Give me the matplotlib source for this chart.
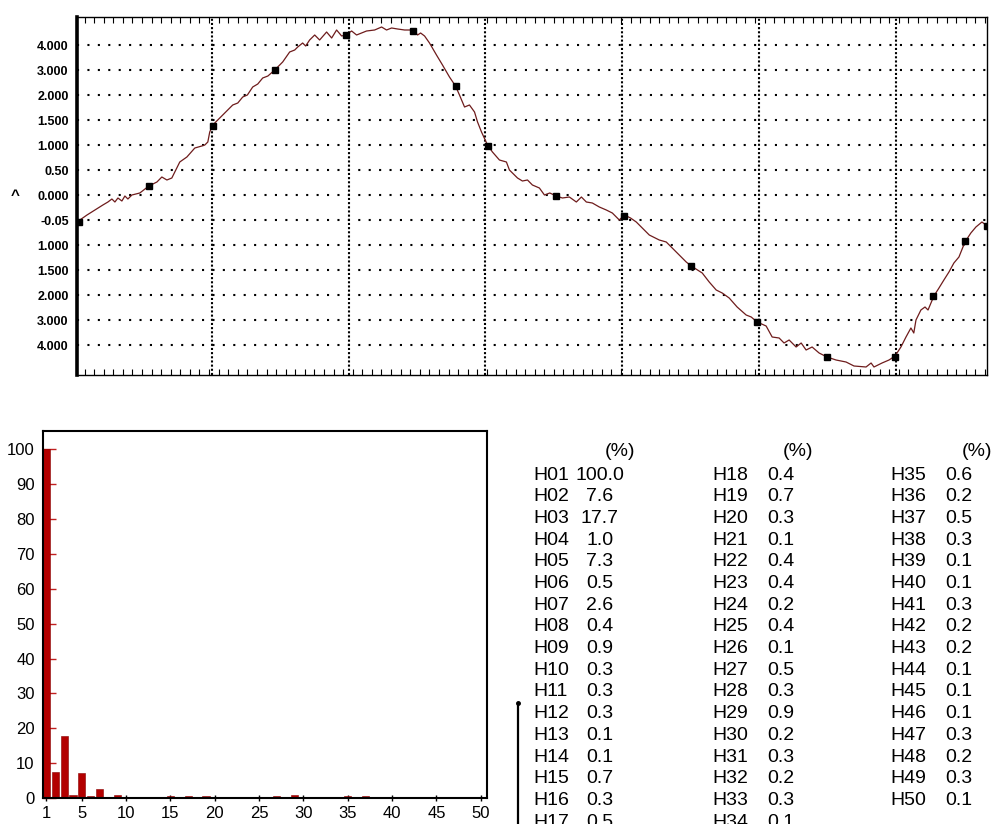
import matplotlib
matplotlib.use("Agg")
import matplotlib.pyplot as plt
from matplotlib.lines import Line2D
from matplotlib.ticker import MultipleLocator

# --- waveform (x in grid divisions, y in grid rows) ---
wave_x = [0.015, 0.088, 0.146, 0.204, 0.241, 0.27, 0.292, 0.314, 0.343, 0.365, 0.387, 0.416,
          0.474, 0.540, 0.599, 0.635, 0.672, 0.708, 0.766, 0.818, 0.876, 0.927, 0.949, 0.971,
          0.985, 1.007, 1.080, 1.153, 1.19, 1.226, 1.26, 1.299, 1.336, 1.372, 1.41, 1.460,
          1.518, 1.569, 1.606, 1.628, 1.664, 1.686, 1.715, 1.752, 1.788, 1.839, 1.876, 1.912,
          1.949, 1.978, 2.022, 2.058, 2.131, 2.190, 2.241, 2.277, 2.314, 2.358, 2.409, 2.474,
          2.504, 2.526, 2.555, 2.591, 2.642, 2.686, 2.737, 2.781, 2.810, 2.847, 2.883, 2.920,
          2.942, 2.971, 3.015, 3.051, 3.102, 3.153, 3.175, 3.234, 3.27, 3.307, 3.343, 3.394,
          3.431, 3.47, 3.518, 3.562, 3.613, 3.664, 3.701, 3.737, 3.781, 3.832, 3.883, 3.927,
          3.978, 4.015, 4.06, 4.102, 4.146, 4.197, 4.270, 4.321, 4.365, 4.431, 4.467, 4.504,
          4.584, 4.635, 4.686, 4.730, 4.781, 4.839, 4.905, 4.942, 4.985, 5.051, 5.095, 5.146,
          5.182, 5.219, 5.270, 5.307, 5.343, 5.387, 5.438, 5.496, 5.562, 5.635, 5.693, 5.781,
          5.818, 5.839, 5.898, 5.949, 5.993, 6.036, 6.073, 6.109, 6.13, 6.146, 6.182, 6.212,
          6.234, 6.277, 6.314, 6.350, 6.387, 6.423, 6.460, 6.504, 6.547, 6.584, 6.628, 6.657]
wave_y = [-1.08, -0.80, -0.60, -0.40, -0.28, -0.16, -0.28, -0.12, -0.24, -0.04, -0.16, 0.0,
          0.08, 0.36, 0.52, 0.72, 0.60, 0.68, 1.32, 1.52, 1.88, 1.96, 2.0, 2.12,
          2.52, 2.80, 3.20, 3.60, 3.68, 3.92, 4.0, 4.32, 4.44, 4.68, 4.76, 5.00,
          5.32, 5.72, 5.8, 5.92, 6.08, 5.96, 6.20, 6.40, 6.20, 6.52, 6.28, 6.60,
          6.36, 6.40, 6.56, 6.40, 6.56, 6.60, 6.72, 6.60, 6.68, 6.64, 6.60, 6.60,
          6.40, 6.48, 6.36, 6.08, 5.60, 5.20, 4.72, 4.36, 4.00, 3.52, 3.60, 3.32,
          2.92, 2.52, 2.00, 1.72, 1.40, 1.32, 1.00, 0.68, 0.56, 0.60, 0.40, 0.28,
          0.00, 0.08, -0.04, -0.12, -0.08, -0.28, -0.08, -0.28, -0.32, -0.48, -0.60, -0.72,
          -1.00, -0.80, -0.92, -1.08, -1.32, -1.60, -1.80, -1.88, -2.12, -2.48, -2.68, -2.84,
          -3.12, -3.48, -3.80, -3.92, -4.12, -4.48, -4.80, -4.88, -5.08, -5.24, -5.68, -5.72,
          -5.92, -5.80, -6.08, -5.92, -6.20, -6.08, -6.32, -6.48, -6.60, -6.68, -6.84, -6.88,
          -6.72, -6.88, -6.72, -6.60, -6.44, -6.08, -5.68, -5.32, -5.52, -5.00, -4.60, -4.48,
          -4.60, -4.04, -3.72, -3.40, -3.08, -2.72, -2.48, -1.88, -1.52, -1.28, -1.08, -1.20]

mark_x = [0.029, 0.540, 1.007, 1.460, 1.978, 2.474, 2.781, 3.015, 3.518, 4.015, 4.504,
          4.985, 5.496, 5.993, 6.270, 6.504, 6.664]
mark_y = [-1.08, 0.36, 2.76, 5.00, 6.40, 6.56, 4.36, 1.96, -0.04, -0.84, -2.84,
          -5.08, -6.48, -6.48, -4.04, -1.84, -1.24]

row_labels = ["4.000", "3.000", "2.000", "1.500", "1.000", "0.50", "0.000",
              "-0.05", "1.000", "1.500", "2.000", "3.000", "4.000"]
row_pos = [6, 5, 4, 3, 2, 1, 0, -1, -2, -3, -4, -5, -6]

# --- harmonic spectrum (%) ---
harm_values = [100.0, 7.6, 17.7, 1.0, 7.3, 0.5, 2.6, 0.4, 0.9, 0.3,
               0.3, 0.3, 0.1, 0.1, 0.7, 0.3, 0.5, 0.4, 0.7, 0.3,
               0.1, 0.4, 0.4, 0.2, 0.4, 0.1, 0.5, 0.3, 0.9, 0.2,
               0.3, 0.2, 0.3, 0.1, 0.6, 0.2, 0.5, 0.3, 0.1, 0.1,
               0.3, 0.2, 0.2, 0.1, 0.1, 0.1, 0.3, 0.2, 0.3, 0.1]
harm_orders = list(range(1, len(harm_values) + 1))
bar_xticks = [1, 5, 10, 15, 20, 25, 30, 35, 40, 45, 50]
bar_yticks = [0, 10, 20, 30, 40, 50, 60, 70, 80, 90, 100]

W, H = 994, 824
fig = plt.figure(figsize=(W / 100, H / 100), dpi=100)
narrow = ["Liberation Sans Narrow", "Liberation Sans", "DejaVu Sans"]

# ---------------- top: waveform ----------------
ax1 = fig.add_axes([77 / W, 1 - 375 / H, 910 / W, 358 / H])
ax1.plot(wave_x, wave_y, color="#6e1c1c", lw=0.9, zorder=3)
ax1.plot(mark_x, mark_y, "s", color="black", ms=5, zorder=4)
ax1.set_xlim(0.015, 6.665)
ax1.set_ylim(-7.2, 7.12)
ax1.set_yticks(row_pos)
ax1.set_yticklabels(row_labels, fontsize=9, fontweight="bold", family="Liberation Sans")
ax1.tick_params(axis="y", length=0, pad=6)
ax1.set_xticks(range(1, 7))
ax1.tick_params(axis="x", which="major", length=0, labelbottom=False)
ax1.xaxis.set_minor_locator(MultipleLocator(0.07))
ax1.tick_params(axis="x", which="minor", direction="in", length=4, width=0.8,
                top=True, bottom=True)
ax1.grid(axis="y", color="black", lw=1.5, linestyle=(0, (1, 4)))
ax1.grid(axis="x", color="black", lw=1.5, linestyle=(0, (1, 1)))
ax1.spines["left"].set_linewidth(2.6)
for s in ["top", "bottom", "right"]:
    ax1.spines[s].set_linewidth(1.0)
fig.text(15 / W, 1 - 196 / H, "^", fontsize=11, fontweight="bold",
         ha="center", va="center", family="Liberation Sans")

# ---------------- bottom left: bar chart ----------------
ax2 = fig.add_axes([43 / W, 1 - 798 / H, 444 / W, 367 / H])
ax2.bar(harm_orders, harm_values, width=0.8, color="#b30000", edgecolor="#8a0000", lw=0.4,
        zorder=2)
ax2.set_xlim(0.62, 50.7)
ax2.set_ylim(0, 105.3)
ax2.set_xticks(bar_xticks)
ax2.set_yticks(bar_yticks)
ax2.set_xticklabels([str(t) for t in bar_xticks], fontsize=12, family=narrow)
ax2.set_yticklabels([str(t) for t in bar_yticks], fontsize=12, family=narrow)
ax2.tick_params(axis="y", direction="in", length=9, color="#c02020", width=1, pad=6)
ax2.tick_params(axis="x", direction="inout", length=4, width=1, pad=4)
for s in ax2.spines.values():
    s.set_linewidth(1.5)

# ---------------- bottom right: harmonic table ----------------
row_h = 21.7
y0 = 475
col_label_x = [533, 712, 890]
col_val_x = [600, 767, 945]
col_pct_x = [620, 798, 977]
for c in range(3):
    fig.text(col_pct_x[c] / W, 1 - 452 / H, "(%)", fontsize=14, family=narrow,
             ha="center", va="center")
    for r in range(17):
        i = c * 17 + r
        if i >= len(harm_values):
            break
        y = 1 - (y0 + r * row_h) / H
        fig.text(col_label_x[c] / W, y, f"H{i + 1:02d}", fontsize=14, family=narrow,
                 ha="left", va="center")
        fig.text(col_val_x[c] / W, y, f"{harm_values[i]:.1f}", fontsize=14, family=narrow,
                 ha="center" if c == 0 else "left", va="center")

# bracket line left of the table
fig.add_artist(Line2D([518 / W, 518 / W], [1 - 703 / H, 0], color="black", lw=1.6))
fig.add_artist(Line2D([518 / W], [1 - 703 / H], marker="o", ms=2.5, color="black"))

fig.savefig("out.png", dpi=100, facecolor="white")
